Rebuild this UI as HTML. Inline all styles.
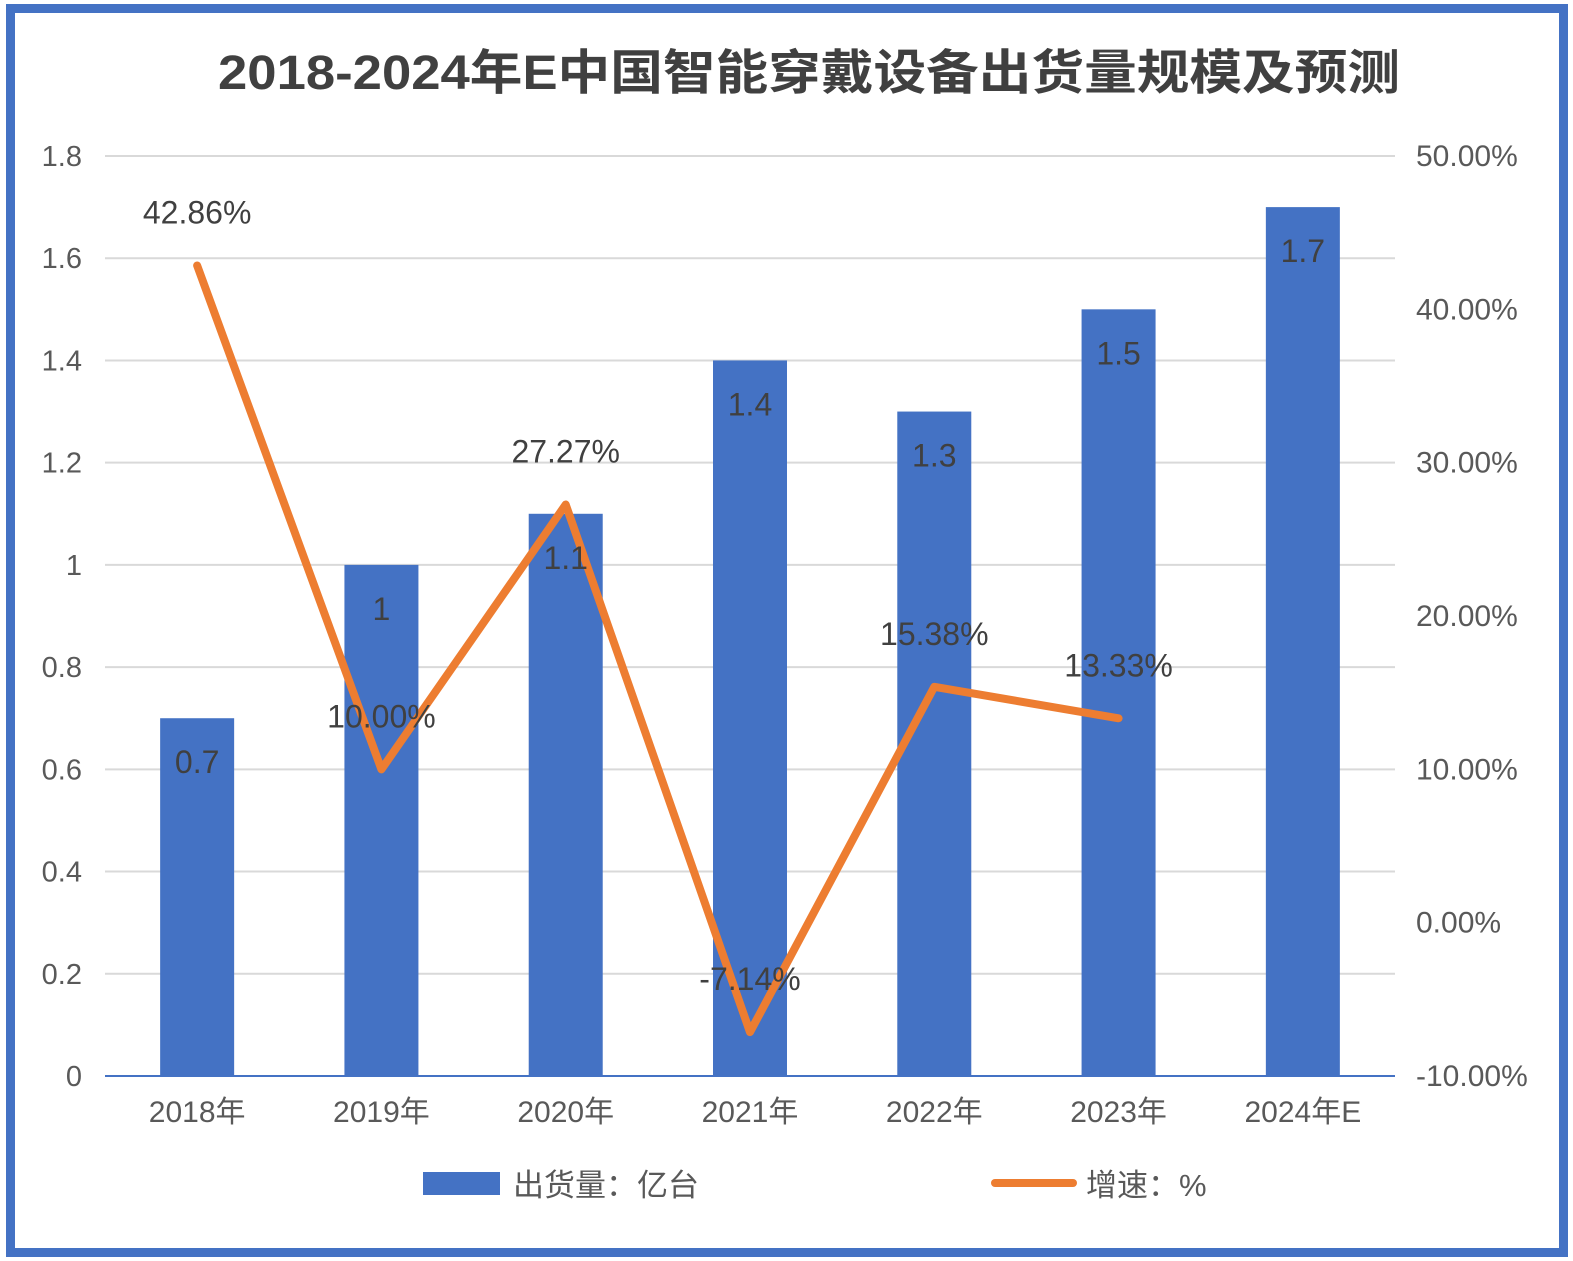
<!DOCTYPE html>
<html><head><meta charset="utf-8"><style>
body{margin:0;background:#fff;}
svg{display:block;font-family:"Liberation Sans","Noto Sans CJK SC",sans-serif;}
</style></head><body>
<svg id="c" width="1573" height="1261" xmlns="http://www.w3.org/2000/svg">
<rect x="0" y="0" width="1573" height="1261" fill="#fff"/>
<rect x="10.5" y="8.5" width="1553" height="1244" fill="#fff" stroke="#4472C4" stroke-width="9"/>
<text x="218" y="89" textLength="1182" lengthAdjust="spacingAndGlyphs" font-size="48" font-weight="bold" fill="#404040">2018-2024年E中国智能穿戴设备出货量规模及预测</text>
<g id="grid"></g><g id="bars"></g><g id="line"></g><g id="labels"></g>
<g>
<rect x="423" y="1172" width="77" height="23" fill="#4472C4"/>
<text x="513" y="1196" font-size="31" fill="#595959">出货量：亿台</text>
<line x1="995" y1="1183" x2="1073" y2="1183" stroke="#ED7D31" stroke-width="8" stroke-linecap="round"/>
<text x="1086" y="1196" font-size="31" fill="#595959">增速：%</text>
</g>
</svg>
<script>
const categories=["2018年","2019年","2020年","2021年","2022年","2023年","2024年E"];
const shipments=[0.7,1,1.1,1.4,1.3,1.5,1.7];
const growth=[42.86,10.00,27.27,-7.14,15.38,13.33];
const leftTicks=[0,0.2,0.4,0.6,0.8,1,1.2,1.4,1.6,1.8];
const rightTicks=[-10,0,10,20,30,40,50];
const NS="http://www.w3.org/2000/svg";
const x0=105,x1=1395,yB=1076,yT=156;
const step=(x1-x0)/categories.length;
const xc=i=>x0+step*(i+0.5);
const yL=v=>yB-(v/1.8)*(yB-yT);
const yR=v=>yB-((v+10)/60)*(yB-yT);
function el(t,a,p){const e=document.createElementNS(NS,t);for(const k in a)e.setAttribute(k,a[k]);p.appendChild(e);return e;}
const grid=document.getElementById('grid'),bars=document.getElementById('bars'),line=document.getElementById('line'),labels=document.getElementById('labels');
leftTicks.forEach(v=>{
 if(v>0){const g=el('line',{x1:x0,x2:x1,y1:yL(v),y2:yL(v),stroke:'#d9d9d9','stroke-width':2},grid);
 
 }
 const t=el('text',{x:82,y:yL(v)+10,'text-anchor':'end','font-size':29,fill:'#595959'},grid);t.textContent=String(v);
 
 
});
rightTicks.forEach(v=>{
 const t=el('text',{x:1416,y:yR(v)+10,'font-size':30,fill:'#595959'},grid);t.textContent=v.toFixed(2)+'%';
 
 
});
const ax=el('line',{x1:x0,x2:x1,y1:yB,y2:yB,stroke:'#4472C4','stroke-width':2},grid);


categories.forEach((c,i)=>{
 const t=el('text',{x:xc(i),y:1122,'text-anchor':'middle','font-size':30,fill:'#595959'},grid);t.textContent=c;
 
 
});
const bw=74;
shipments.forEach((v,i)=>{
 const b=el('rect',{x:xc(i)-bw/2,y:yL(v),width:bw,height:yB-yL(v),fill:'#4472C4'},bars);
 
 
 const t=el('text',{x:xc(i),y:yL(v)+55,'text-anchor':'middle','font-size':32,fill:'#404040'},labels);t.textContent=String(v);
 
 
});
const pts=growth.map((g,i)=>xc(i)+','+yR(g)).join(' ');
const pl=el('polyline',{points:pts,fill:'none',stroke:'#ED7D31','stroke-width':8,'stroke-linejoin':'round','stroke-linecap':'round'},line);


growth.forEach((g,i)=>{
 const t=el('text',{x:xc(i),y:yR(g)-42,'text-anchor':'middle','font-size':32,fill:'#404040'},labels);t.textContent=g.toFixed(2)+'%';
 
 
});
</script>
</body></html>
